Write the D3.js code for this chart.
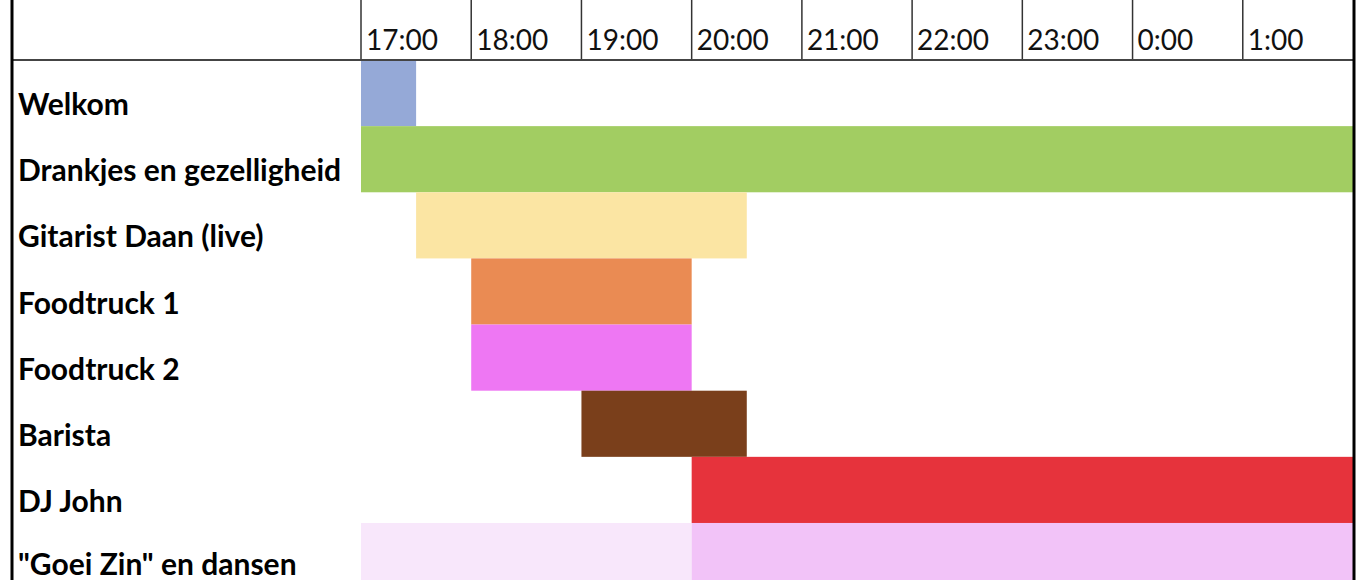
<!DOCTYPE html>
<html><head><meta charset="utf-8">
<script src="https://cdn.jsdelivr.net/npm/d3@7"></script>
<style>html,body{margin:0;padding:0;background:#fff;overflow:hidden}</style>
</head><body>
<svg id="chart" width="1366" height="580"></svg>
<script>
const categories = ["Welkom","Drankjes en gezelligheid","Gitarist Daan (live)","Foodtruck 1","Foodtruck 2","Barista","DJ John","\"Goei Zin\" en dansen"];
const hourLabels = ["17:00","18:00","19:00","20:00","21:00","22:00","23:00","0:00","1:00"];
const hourValues = [17,18,19,20,21,22,23,24,25];
// segments
const segTask  = ["Welkom","Drankjes en gezelligheid","Gitarist Daan (live)","Foodtruck 1","Foodtruck 2","Barista","DJ John","\"Goei Zin\" en dansen","\"Goei Zin\" en dansen"];
const segStart = [17, 17, 17.5, 18, 18, 19, 20, 17, 20];
const segEnd   = [17.5, 26, 20.5, 20, 20, 20.5, 26, 20, 26];
const segColor = ["#95A9D7","#A2CD62","#FBE5A3","#EA8B53","#EE77F3","#7A3F1B","#E6333C","#F8E7FB","#F2C3F8"];

const svg = d3.select("#chart");
const x = d3.scaleLinear().domain([17,26]).range([361,1353]);
const y = d3.scaleBand().domain(categories).range([60, 60 + 66.14*categories.length]).padding(0);

const segs = segTask.map((t,i)=>({t, s:segStart[i], e:segEnd[i], c:segColor[i]}));
svg.append("g").selectAll("rect").data(segs).join("rect")
  .attr("x", d=>x(d.s)).attr("y", d=>y(d.t))
  .attr("width", d=>x(d.e)-x(d.s)).attr("height", y.bandwidth())
  .attr("fill", d=>d.c);

// header vertical lines
svg.append("g").selectAll("line").data(hourValues).join("line")
  .attr("x1", d=>x(d)).attr("x2", d=>x(d)).attr("y1", 0).attr("y2", 60)
  .attr("stroke", "#333").attr("stroke-width", 1.5);

// header labels
svg.append("g").selectAll("text").data(hourValues).join("text")
  .attr("x", d=>x(d)+5).attr("y", 50)
  .attr("font-family", "Lato, 'Open Sans', sans-serif").attr("font-size", 28)
  .attr("fill", "#111")
  .text((d,i)=>hourLabels[i]);

// header bottom line
svg.append("line").attr("x1", 12).attr("x2", 1353).attr("y1", 60).attr("y2", 60)
  .attr("stroke", "#444").attr("stroke-width", 2);

// row labels
svg.append("g").selectAll("text").data(categories).join("text")
  .attr("x", 18).attr("y", d=>Math.min(y(d)+y.bandwidth()-11, 575))
  .attr("font-family", "Lato, 'Open Sans', sans-serif").attr("font-weight", "bold")
  .attr("font-size", 30).attr("fill", "#000")
  .text(d=>d);

// borders
svg.append("line").attr("x1", 12).attr("x2", 12).attr("y1", 0).attr("y2", 580)
  .attr("stroke", "#000").attr("stroke-width", 3);
svg.append("line").attr("x1", 1354).attr("x2", 1354).attr("y1", 0).attr("y2", 580)
  .attr("stroke", "#000").attr("stroke-width", 3);
</script>
</body></html>
